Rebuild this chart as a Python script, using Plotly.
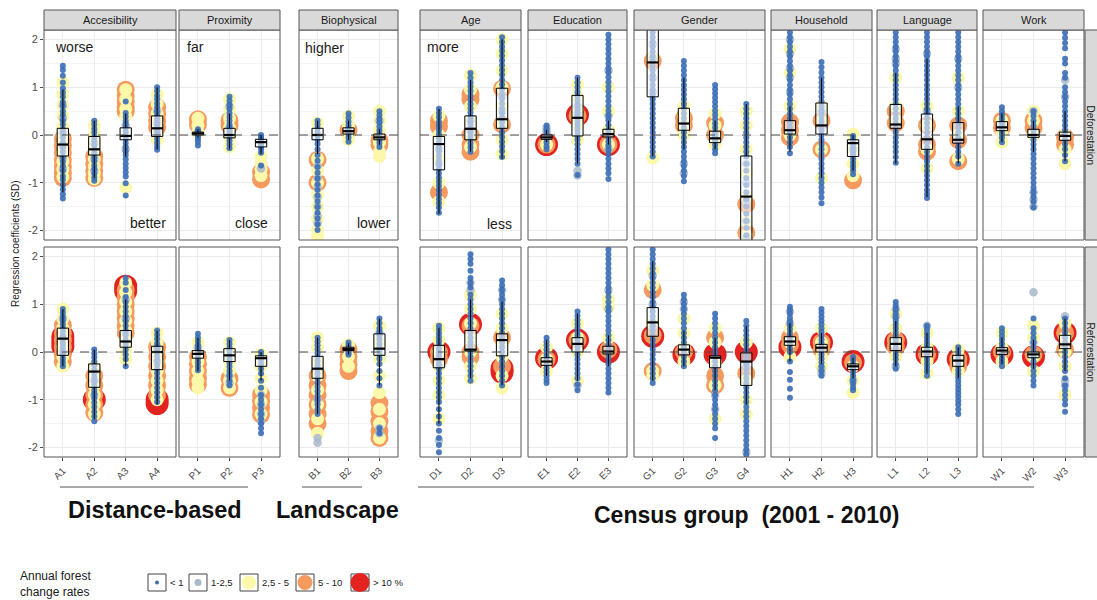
import plotly.graph_objects as go

FIG_W, FIG_H = 1097, 600
FONT = "Liberation Sans, Arial, sans-serif"

# ---------------------------------------------------------------- categories
PANELS = ["Accesibility", "Proximity", "Biophysical", "Age", "Education",
          "Gender", "Household", "Language", "Work"]
PANEL_CATS = [["A1", "A2", "A3", "A4"], ["P1", "P2", "P3"], ["B1", "B2", "B3"],
              ["D1", "D2", "D3"], ["E1", "E2", "E3"], ["G1", "G2", "G3", "G4"],
              ["H1", "H2", "H3"], ["L1", "L2", "L3"], ["W1", "W2", "W3"]]
ROWS = ["Deforestation", "Reforestation"]
RATE_LABELS = ["< 1", "1-2,5", "2,5 - 5", "5 - 10", "> 10 %"]
Y_TICKS = [-2, -1, 0, 1, 2]

# ------------------------------------------------- deforestation: box stats
# order: A1 A2 A3 A4 | P1 P2 P3 | B1 B2 B3 | D1 D2 D3 | E1 E2 E3 | G1 G2 G3 G4 | H1 H2 H3 | L1 L2 L3 | W1 W2 W3
def_lo = [-1.2, -0.9, -0.45, -0.3, -0.05, -0.3, -0.4, -0.4, -0.1, -0.2, -1.65, -0.35, -0.5,
          -0.15, -0.6, -0.2, -0.45, -0.3, -0.3, -2.6, -0.35, -0.9, -0.75, -0.6, -1.3, -0.6,
          -0.15, -0.35, -0.55]
def_q1 = [-0.44, -0.42, -0.1, -0.03, 0.0, -0.06, -0.25, -0.1, 0.02, -0.1, -0.73, -0.1, 0.14,
          -0.09, -0.02, -0.04, 0.8, 0.1, -0.16, -2.4, 0.02, 0.02, -0.45, 0.14, -0.3, -0.17,
          0.09, -0.05, -0.11]
def_med = [-0.2, -0.3, -0.02, 0.14, 0.03, 0.0, -0.15, 0.0, 0.08, -0.05, -0.19, 0.13, 0.33,
           -0.05, 0.36, 0.02, 1.52, 0.24, -0.07, -1.29, 0.1, 0.2, -0.17, 0.22, -0.09, -0.1,
           0.16, 0.0, -0.02]
def_q3 = [0.14, -0.03, 0.15, 0.4, 0.06, 0.14, -0.09, 0.14, 0.15, 0.02, -0.03, 0.4, 0.98,
          0.0, 0.83, 0.12, 2.4, 0.56, 0.08, -0.44, 0.3, 0.67, -0.1, 0.64, 0.44, 0.26,
          0.28, 0.12, 0.06]
def_hi = [0.95, 0.3, 0.45, 1.0, 0.12, 0.45, 0.0, 0.3, 0.3, 0.12, 0.55, 1.15, 2.0,
          0.1, 1.2, 0.3, 2.6, 1.2, 0.3, 0.65, 0.6, 1.2, 0.0, 1.3, 1.6, 0.6,
          0.45, 0.3, 0.5]

# ---------------------------------------------- deforestation: coefficients
def_blue = [
    [1.45, 1.36, 1.24, 1.1, 0.98, 0.89, 0.8, 0.69, 0.61, 0.5, 0.42, 0.31, 0.22, 0.12, 0.03, -0.05,
     -0.15, -0.26, -0.35, -0.46, -0.56, -0.65, -0.75, -0.86, -0.94, -1.04, -1.14, -1.24, -1.33],
    [0.3, 0.22, 0.13, 0.05, -0.04, -0.12, -0.21, -0.3, -0.38, -0.47, -0.55, -0.64, -0.72, -0.81, -0.89, -0.96],
    [0.7, 0.46, 0.38, 0.3, 0.23, 0.15, 0.07, 0.0, -0.08, -0.17, -0.25, -0.34, -0.42, -0.51, -0.6, -0.69,
     -0.78, -0.87, -1.01, -1.27],
    [1.0, 0.92, 0.83, 0.75, 0.66, 0.58, 0.49, 0.41, 0.33, 0.24, 0.16, 0.08, 0.0, -0.08, -0.16, -0.24, -0.31],
    [0.12, 0.08, 0.04, 0.01, -0.03, -0.08, -0.14, -0.22],
    [0.8, 0.72, 0.63, 0.55, 0.46, 0.38, 0.3, 0.22, 0.15, 0.08, 0.02, -0.05, -0.12, -0.2, -0.28],
    [0.0, -0.04, -0.09, -0.14, -0.19, -0.24, -0.3, -0.37, -0.64],
    [0.3, 0.22, 0.14, 0.06, -0.02, -0.1, -0.19, -0.3, -0.42, -0.54, -0.67, -0.79, -0.91, -1.03, -1.15,
     -1.27, -1.39, -1.51, -1.63, -1.75, -1.87, -1.99],
    [0.45, 0.36, 0.28, 0.2, 0.13, 0.07, 0.01, -0.06, -0.14],
    [0.5, 0.42, 0.34, 0.26, 0.18, 0.1, 0.03, -0.04, -0.1, -0.17, -0.25],
    [0.55, 0.46, 0.37, 0.28, 0.19, 0.1, 0.01, -0.08, -0.17, -0.26, -0.35, -0.44, -0.53, -0.62, -0.71,
     -0.8, -0.89, -0.98, -1.07, -1.16, -1.25, -1.34, -1.43, -1.52, -1.63],
    [1.3, 1.2, 1.1, 1.01, 0.92, 0.83, 0.74, 0.65, 0.56, 0.47, 0.38, 0.3, 0.22, 0.14, 0.06, -0.02,
     -0.1, -0.18, -0.26, -0.35],
    [2.05, 1.95, 1.85, 1.76, 1.66, 1.56, 1.46, 1.36, 1.26, 1.16, 1.06, 0.96, 0.86, 0.76, 0.66, 0.56,
     0.46, 0.36, 0.26, 0.16, 0.06, -0.04, -0.14, -0.24, -0.34, -0.46],
    [0.2, 0.12, 0.05, -0.02, -0.09, -0.16, -0.24, -0.3],
    [1.2, 1.1, 1.0, 0.9, 0.81, 0.72, 0.63, 0.54, 0.46, 0.38, 0.3, 0.22, 0.14, 0.06, -0.02, -0.1,
     -0.2, -0.3, -0.4, -0.5, -0.6, -0.84],
    [2.1, 2.0, 1.9, 1.8, 1.7, 1.6, 1.5, 1.4, 1.31, 1.21, 1.11, 1.01, 0.91, 0.81, 0.71, 0.61, 0.51,
     0.41, 0.31, 0.21, 0.11, 0.02, -0.06, -0.14, -0.22, -0.31, -0.4, -0.5, -0.6, -0.7, -0.8, -0.92],
    [2.15, 2.05, 1.95, 1.85, 1.75, 1.65, 1.55, 1.45, 1.35, 1.25, 1.15, 1.05, 0.95, 0.85, 0.75, 0.65,
     0.55, 0.45, 0.35, 0.25, 0.15, 0.05, -0.05, -0.15, -0.25, -0.35, -0.45],
    [1.55, 1.45, 1.35, 1.25, 1.15, 1.05, 0.95, 0.85, 0.75, 0.65, 0.55, 0.45, 0.35, 0.25, 0.15, 0.05,
     -0.05, -0.15, -0.25, -0.35, -0.45, -0.55, -0.65, -0.75, -0.86, -0.97],
    [1.05, 0.96, 0.87, 0.78, 0.69, 0.6, 0.51, 0.42, 0.33, 0.24, 0.15, 0.06, -0.03, -0.12, -0.21, -0.3, -0.38],
    [0.65, 0.55, 0.45, 0.35, 0.25, 0.15, 0.05, -0.05, -0.15, -0.25, -0.35, -0.45, -0.6, -0.75, -0.9,
     -1.05, -1.2, -1.35, -1.5, -1.65, -1.8, -1.95, -2.1],
    [2.15, 2.05, 1.95, 1.85, 1.75, 1.65, 1.55, 1.45, 1.35, 1.25, 1.15, 1.05, 0.95, 0.85, 0.75, 0.65,
     0.55, 0.45, 0.35, 0.25, 0.15, 0.05, -0.05, -0.15, -0.25, -0.38],
    [1.53, 1.42, 1.31, 1.2, 1.1, 1.0, 0.9, 0.8, 0.7, 0.6, 0.5, 0.4, 0.3, 0.2, 0.1, 0.0, -0.1, -0.2,
     -0.3, -0.4, -0.5, -0.6, -0.7, -0.8, -0.9, -1.0, -1.1, -1.2, -1.31, -1.43],
    [-0.02, -0.1, -0.18, -0.26, -0.34, -0.42, -0.5, -0.58, -0.66, -0.74, -0.82],
    [2.15, 2.05, 1.95, 1.85, 1.75, 1.65, 1.55, 1.45, 1.35, 1.25, 1.15, 1.05, 0.95, 0.85, 0.75, 0.65,
     0.55, 0.45, 0.35, 0.25, 0.15, 0.05, -0.05, -0.15, -0.25, -0.35, -0.46, -0.58],
    [2.15, 2.05, 1.95, 1.85, 1.75, 1.65, 1.55, 1.45, 1.35, 1.25, 1.15, 1.05, 0.95, 0.85, 0.75, 0.65,
     0.55, 0.45, 0.35, 0.25, 0.15, 0.05, -0.05, -0.15, -0.25, -0.35, -0.45, -0.55, -0.65, -0.75,
     -0.85, -0.95, -1.05, -1.15, -1.24, -1.32],
    [2.15, 2.05, 1.95, 1.85, 1.75, 1.65, 1.55, 1.45, 1.35, 1.25, 1.15, 1.05, 0.95, 0.85, 0.75, 0.65,
     0.55, 0.45, 0.35, 0.25, 0.15, 0.05, -0.05, -0.15, -0.25, -0.35, -0.45, -0.6],
    [0.58, 0.5, 0.42, 0.34, 0.26, 0.18, 0.1, 0.02, -0.06, -0.15],
    [0.5, 0.4, 0.3, 0.2, 0.1, 0.0, -0.1, -0.2, -0.3, -0.4, -0.5, -0.6, -0.7, -0.8, -0.9, -1.0,
     -1.1, -1.2, -1.3, -1.4, -1.52],
    [2.15, 2.04, 1.93, 1.82, 1.6, 1.5, 1.3, 1.2, 1.0, 0.9, 0.8, 0.7, 0.6, 0.5, 0.4, 0.3, 0.2, 0.1,
     0.0, -0.1, -0.2, -0.3, -0.42, -0.55],
]
def_gray = [
    [0.62, 0.35, 0.05, -0.22, -0.48, -0.71], [-0.18, -0.5, -0.75], [0.2, -0.3], [0.5, 0.25, 0.05],
    [0.05], [0.6, 0.15], [-0.7],
    [-0.65, -0.9, -1.1, -1.3, -1.5, -1.7, -1.85], [0.1], [0.3],
    [-0.3, -0.6], [0.3, 0.1], [0.8, 0.5],
    [0.15, 0.08], [0.6, 0.45, -0.75, -0.85], [1.35, 0.4, -0.3],
    [1.9, 1.6, 1.2, 0.9], [-0.6, -0.8], [0.0], [-0.6, -1.0, -1.4, -1.8, -2.15],
    [2.0, 1.7, 1.4, 1.2, 0.9], [0.5, 0.2], [-0.3],
    [1.8, 1.6, 1.5], [1.7, 0.5], [1.6, 1.0],
    [0.2], [0.5, -1.2, -1.35, -1.5], [1.15, 0.8],
]
def_yellow = [
    [1.1, 0.85, 0.62, 0.4, 0.18, -0.02, -0.2, -0.38, -0.55, -0.72, -0.88],
    [0.2, 0.02, -0.15, -0.33, -0.5, -0.66, -0.8, -0.92],
    [0.95, 0.75, 0.55, 0.4, -1.1],
    [0.85, 0.65, 0.45, 0.25, 0.05, -0.1],
    [0.35, 0.2, 0.05], [0.75, 0.55, 0.35, 0.15, -0.05, -0.25], [-0.45, -0.58, -0.72, -0.85],
    [0.25, -0.5, -0.75, -1.0, -1.25, -1.5, -1.75, -2.0, -2.12], [0.4, 0.2, 0.0, -0.1],
    [0.5, 0.3, 0.1, -0.15, -0.35, -0.45],
    [0.4, 0.0, -0.5, -1.0, -1.4], [1.25, 0.95, 0.6, 0.3, 0.0, -0.25],
    [2.0, 1.7, 1.35, 1.0, 0.6, 0.25, -0.1, -0.4],
    [-0.2], [1.05, 0.8, 0.55, 0.4, 0.2, -0.1], [1.0, 0.5, 0.1, -0.2],
    [1.6, -0.48], [0.6, 0.4, 0.2, 0.0], [0.45, 0.2, -0.05, -0.2], [0.5, 0.2, -0.3, -0.8, -1.3, -1.8, -2.1],
    [1.8, 1.3, 0.6, 0.0], [0.6, 0.3, -0.3, -0.9], [0.02, -0.3, -0.6, -0.85],
    [1.2, 0.6, 0.3], [0.6, 0.2, -0.3, -0.7], [1.2, 0.5, 0.0, -0.5],
    [0.3, 0.05, -0.15], [0.5, 0.3, 0.0], [0.0, -0.3, -0.6],
]
def_orange = [
    [-0.08, -0.22, -0.37, -0.52, -0.66, -0.8, -0.9], [-0.45, -0.6, -0.75, -0.9],
    [0.95, 0.82, 0.7, 0.58, 0.5], [0.58, 0.45, 0.3, 0.16],
    [0.33, 0.22], [0.3, 0.2], [-0.78, -0.93],
    [-0.52, -1.0], [0.1], [-0.12, -0.2],
    [0.3, 0.18, -1.2], [0.85, 0.75, 0.0, -0.2, -0.35], [0.97, 0.22],
    [-0.2], [0.4], [-0.2],
    [1.55], [0.35, 0.2], [0.25, 0.0], [-1.45, -2.05],
    [0.27, 0.1, -0.05], [0.3, -0.3], [-0.95],
    [0.5, 0.25], [0.2, -0.2, -0.35], [0.2, -0.1, -0.55],
    [0.3, 0.15], [0.3, 0.15], [-0.05, -0.2],
]
def_red = [
    [], [], [], [],
    [], [], [],
    [], [], [],
    [], [], [],
    [-0.2], [0.42], [-0.2],
    [], [], [], [],
    [], [], [],
    [], [], [],
    [], [], [],
]

# ------------------------------------------------- reforestation: box stats
ref_lo = [-0.3, -1.4, -0.3, -1.1, -0.4, -0.6, -0.6, -1.3, -0.05, -0.7, -1.5, -0.55, -0.7,
          -0.5, -0.6, -0.3, -0.6, -0.3, -0.8, -1.1, -0.2, -0.25, -0.55, -0.3, -0.45, -0.55,
          -0.25, -0.35, -0.4]
ref_q1 = [-0.07, -0.74, 0.1, -0.37, -0.13, -0.2, -0.3, -0.55, 0.03, -0.07, -0.33, 0.02, -0.08,
          -0.28, 0.0, -0.04, 0.33, -0.06, -0.33, -0.7, 0.14, 0.0, -0.37, 0.03, -0.1, -0.3,
          -0.05, -0.12, 0.07]
ref_med = [0.28, -0.41, 0.22, 0.0, -0.04, -0.07, -0.13, -0.35, 0.06, 0.07, -0.15, 0.05, 0.25,
           -0.2, 0.17, 0.01, 0.62, 0.05, -0.12, -0.2, 0.22, 0.09, -0.3, 0.17, 0.01, -0.18,
           0.03, -0.05, 0.16]
ref_q3 = [0.5, -0.25, 0.45, 0.12, 0.03, 0.07, -0.08, -0.09, 0.1, 0.38, 0.14, 0.45, 0.38,
          -0.12, 0.3, 0.12, 0.93, 0.15, -0.08, -0.02, 0.32, 0.16, -0.25, 0.3, 0.1, -0.07,
          0.09, 0.0, 0.35]
ref_hi = [0.9, 0.05, 1.1, 0.45, 0.3, 0.25, 0.0, 0.3, 0.18, 0.7, 0.5, 1.1, 1.05,
          0.25, 0.8, 0.35, 1.9, 0.45, 0.3, 0.55, 0.6, 0.4, -0.12, 0.65, 0.4, 0.1,
          0.3, 0.25, 0.7]

# ---------------------------------------------- reforestation: coefficients
ref_blue = [
    [0.9, 0.82, 0.74, 0.66, 0.58, 0.5, 0.42, 0.34, 0.26, 0.18, 0.1, 0.02, -0.06, -0.14, -0.22, -0.3],
    [0.05, -0.03, -0.11, -0.2, -0.28, -0.37, -0.45, -0.54, -0.62, -0.71, -0.8, -0.88, -0.97, -1.06,
     -1.15, -1.25, -1.35, -1.45],
    [1.55, 1.45, 1.3, 1.15, 1.05, 0.95, 0.85, 0.75, 0.65, 0.55, 0.45, 0.35, 0.25, 0.15, 0.05, -0.05,
     -0.15, -0.3],
    [0.45, 0.36, 0.27, 0.18, 0.09, 0.0, -0.09, -0.18, -0.27, -0.36, -0.45, -0.55, -0.65, -0.75,
     -0.85, -0.95, -1.05],
    [0.38, 0.3, 0.22, 0.14, 0.07, 0.0, -0.07, -0.14, -0.22, -0.3, -0.38],
    [0.25, 0.17, 0.09, 0.01, -0.07, -0.15, -0.23, -0.31, -0.4, -0.5, -0.6, -0.7],
    [0.0, -0.08, -0.16, -0.25, -0.35, -0.45, -0.6, -0.75, -0.9, -1.0, -1.1, -1.2, -1.3, -1.4,
     -1.5, -1.6, -1.7],
    [0.3, 0.22, 0.14, 0.06, -0.02, -0.1, -0.19, -0.28, -0.37, -0.46, -0.55, -0.64, -0.73, -0.82,
     -0.91, -1.0, -1.1, -1.2, -1.3],
    [0.2, 0.14, 0.08, 0.03, -0.02, -0.06],
    [0.7, 0.6, 0.5, 0.42, 0.34, 0.26, 0.18, 0.1, 0.02, -0.06, -0.14, -0.25, -0.4, -0.55, -0.7,
     -1.6, -1.7],
    [0.55, 0.47, 0.39, 0.31, 0.23, 0.15, 0.07, -0.01, -0.09, -0.17, -0.25, -0.35, -0.45, -0.55,
     -0.65, -0.75, -0.85, -0.95, -1.05, -1.2, -1.35, -1.5, -1.65, -1.8, -1.95, -2.1],
    [2.05, 1.95, 1.85, 1.7, 1.55, 1.45, 1.35, 1.2, 1.1, 1.0, 0.9, 0.8, 0.7, 0.6, 0.5, 0.4, 0.3,
     0.2, 0.1, 0.0, -0.1, -0.2, -0.3, -0.4, -0.5, -0.6],
    [1.5, 1.4, 1.3, 1.2, 1.1, 1.0, 0.9, 0.8, 0.7, 0.6, 0.5, 0.4, 0.3, 0.2, 0.1, 0.0, -0.1, -0.2,
     -0.3, -0.4, -0.5, -0.6, -0.7],
    [0.3, 0.22, 0.14, 0.06, -0.02, -0.1, -0.18, -0.26, -0.34, -0.42, -0.5, -0.58, -0.65],
    [0.85, 0.76, 0.67, 0.58, 0.5, 0.42, 0.34, 0.26, 0.18, 0.1, 0.02, -0.06, -0.15, -0.25, -0.35,
     -0.45, -0.55, -0.68, -0.8],
    [2.15, 2.05, 1.95, 1.85, 1.75, 1.65, 1.55, 1.45, 1.35, 1.25, 1.15, 1.05, 0.95, 0.85, 0.75,
     0.65, 0.55, 0.45, 0.35, 0.25, 0.15, 0.05, -0.05, -0.15, -0.25, -0.35, -0.45, -0.55, -0.65,
     -0.75, -0.85],
    [2.15, 2.05, 1.95, 1.85, 1.75, 1.65, 1.55, 1.45, 1.35, 1.25, 1.15, 1.05, 0.95, 0.85, 0.75,
     0.65, 0.55, 0.45, 0.35, 0.25, 0.15, 0.05, -0.05, -0.15, -0.25, -0.35, -0.45, -0.55, -0.65],
    [1.2, 1.1, 1.0, 0.9, 0.8, 0.7, 0.6, 0.5, 0.4, 0.3, 0.2, 0.1, 0.0, -0.1, -0.2, -0.3],
    [0.8, 0.7, 0.6, 0.5, 0.4, 0.3, 0.2, 0.1, 0.0, -0.1, -0.2, -0.3, -0.4, -0.5, -0.6, -0.7, -0.8,
     -0.9, -1.0, -1.1, -1.2, -1.3, -1.4, -1.5, -1.6, -1.8],
    [0.65, 0.55, 0.45, 0.35, 0.25, 0.15, 0.05, -0.05, -0.15, -0.25, -0.35, -0.45, -0.55, -0.65,
     -0.75, -0.85, -0.95, -1.05, -1.15, -1.25, -1.35, -1.45, -1.55, -1.65, -1.75, -1.85, -1.95,
     -2.05, -2.15],
    [0.95, 0.88, 0.8, 0.72, 0.64, 0.56, 0.48, 0.4, 0.32, 0.24, 0.16, 0.08, 0.0, -0.2, -0.42,
     -0.58, -0.77, -0.96],
    [0.9, 0.82, 0.74, 0.66, 0.58, 0.5, 0.42, 0.34, 0.26, 0.18, 0.1, 0.02, -0.06, -0.14, -0.22,
     -0.3, -0.4, -0.5],
    [-0.1, -0.18, -0.26, -0.34, -0.42, -0.5, -0.58, -0.66, -0.74, -0.8],
    [1.05, 0.97, 0.89, 0.81, 0.73, 0.65, 0.57, 0.49, 0.41, 0.33, 0.25, 0.17, 0.09, 0.01, -0.07,
     -0.15, -0.25, -0.35],
    [0.55, 0.47, 0.39, 0.31, 0.23, 0.15, 0.07, -0.01, -0.09, -0.17, -0.25, -0.33, -0.41, -0.5],
    [0.1, 0.02, -0.06, -0.14, -0.22, -0.3, -0.38, -0.46, -0.54, -0.62, -0.7, -0.78, -0.86, -0.94,
     -1.02, -1.1, -1.2, -1.3],
    [0.5, 0.42, 0.34, 0.26, 0.18, 0.1, 0.02, -0.06, -0.14, -0.22, -0.3],
    [0.7, 0.5, 0.4, 0.3, 0.2, 0.1, 0.0, -0.1, -0.2, -0.3, -0.4, -0.5, -0.6, -0.7],
    [0.7, 0.6, 0.5, 0.4, 0.3, 0.2, 0.1, 0.0, -0.1, -0.2, -0.3, -0.4, -0.55, -0.7, -0.8, -0.9,
     -1.0, -1.1, -1.25],
]
ref_gray = [
    [0.7, 0.3, 0.0], [-0.6, -0.9], [1.1, 0.7, 0.4], [0.1, -0.2],
    [0.1], [-0.5, -0.65], [-0.9, -1.1, -1.3, -1.45],
    [-1.0, -1.8, -1.9], [0.05], [0.4, -1.6, -1.7],
    [-1.85, -0.3], [1.45, 1.3], [1.3, 1.1],
    [], [-0.7], [1.3, 0.9],
    [1.6, 1.0, 0.5], [1.05, 0.9], [-0.9, -1.2], [-2.1, -0.3],
    [0.85, 0.6], [-0.45, -0.35], [-0.6],
    [0.9, 0.75, -0.3], [0.55], [],
    [], [1.25, 0.2], [0.75, -0.6, -0.7],
]
ref_yellow = [
    [0.9, 0.7, 0.5, 0.3, 0.1, -0.1, -0.3], [-0.3, -0.5, -0.7, -0.9, -1.1, -1.3],
    [1.45, 1.25, 1.05, 0.85, 0.65, 0.45, 0.25, 0.05, -0.15], [0.4, 0.2, 0.0, -0.2, -0.4, -0.6, -0.8, -1.0],
    [0.2, 0.0, -0.2, -0.4, -0.6, -0.75], [0.2, 0.0, -0.2, -0.4, -0.6, -0.75],
    [-0.05, -0.3, -0.55, -0.8, -1.05, -1.3],
    [0.3, 0.1, -0.2, -0.5, -0.8, -1.1, -1.4, -1.7], [0.15, -0.1, -0.3],
    [0.55, 0.2, -0.15, -0.5, -0.85, -1.2, -1.5, -1.8],
    [0.5, 0.25, 0.0, -0.3, -0.6, -0.9, -1.4], [1.2, 0.9, 0.6, 0.3, 0.0, -0.3, -0.55],
    [0.8, 0.5, 0.2, -0.1, -0.5, -0.75],
    [0.1, -0.15, -0.4], [0.6, 0.3, 0.0, -0.6], [1.1, 0.95, 0.3],
    [1.7, 1.4, 0.6, -0.4, -0.5], [0.7, 0.4, 0.1, -0.2], [0.5, 0.2, -0.2, -0.7, -1.4], [0.2, -0.6, -1.0, -1.3],
    [0.5, 0.2, -0.1], [0.5, 0.2, -0.1, -0.3], [-0.3, -0.6, -0.85],
    [0.8, 0.5, 0.2, -0.1], [0.4, 0.1, -0.2, -0.45], [0.05, -0.2, -0.4],
    [0.4, 0.1, -0.2], [0.55, 0.3, -0.1, -0.4], [0.6, 0.3, 0.0, -0.3, -0.9],
]
ref_orange = [
    [0.56, 0.4, 0.25, 0.1, -0.05, -0.2], [-0.5, -0.7, -0.9, -1.1, -1.27],
    [1.3, 1.15, 1.0, 0.85, 0.7, 0.55, 0.4], [0.1, -0.1, -0.3, -0.5, -0.7, -0.9],
    [-0.1, -0.25, -0.4, -0.55, -0.68], [-0.56, -0.75], [-0.89, -1.03, -1.17, -1.31],
    [-0.5, -0.7, -0.9, -1.1, -1.3, -1.5], [0.05, -0.1, -0.25, -0.4], [-1.07, -1.25, -1.45, -1.65, -1.8],
    [0.0, -0.15], [0.55, 0.0, -0.1], [0.3, -0.3],
    [-0.15], [0.25], [0.05],
    [1.3, 0.35, -0.4], [0.0], [0.3, -0.5, -0.7], [-0.45],
    [0.3, 0.15], [0.2, 0.05], [-0.22],
    [0.25, 0.1], [-0.05], [-0.15, -0.3],
    [0.0], [-0.05], [0.4, 0.05],
]
ref_red = [
    [0.32, 0.22, 0.12], [-1.0], [1.38, 1.28], [-1.0, -1.08],
    [], [], [],
    [], [], [],
    [0.0], [0.58], [-0.35, -0.42],
    [-0.13], [0.25], [0.0],
    [0.33], [-0.05], [-0.05], [0.0],
    [0.1], [0.2], [-0.2],
    [0.2], [-0.05], [-0.15],
    [-0.05], [-0.1], [0.4],
]

# ------------------------------------------------------------------ styling
# drawn largest first so the smaller classes sit on top
CLASS_STYLE = [
    ("red", "#e2231f", 23, 1.0),
    ("orange", "#f59a5e", 18, 1.0),
    ("yellow", "#fcf8aa", 13, 1.0),
    ("gray", "#a8b9cb", 8.5, 0.85),
    ("blue", "#3a6db5", 6, 0.9),
]
BOX_W = 0.36

# pixel geometry of the facets
PANEL_PX = [(44, 176), (179, 280), (299, 398), (420, 521), (528, 627),
            (634, 765), (771, 872), (877, 977), (983, 1084)]
ROW_PX = [(30, 240), (247, 457)]
STRIP_TOP = 10


def px(x):
    return x / FIG_W


def py(y):
    return 1 - y / FIG_H


row_series = [
    dict(red=def_red, orange=def_orange, yellow=def_yellow, gray=def_gray, blue=def_blue,
         stats=(def_lo, def_q1, def_med, def_q3, def_hi)),
    dict(red=ref_red, orange=ref_orange, yellow=ref_yellow, gray=ref_gray, blue=ref_blue,
         stats=(ref_lo, ref_q1, ref_med, ref_q3, ref_hi)),
]

fig = go.Figure()
shapes, annotations = [], []
NOHOVER = dict(hoverinfo="skip", showlegend=False)

k0 = 0
for p, cats in enumerate(PANEL_CATS):
    xa = "x" if p == 0 else f"x{p + 1}"
    idx = list(range(k0, k0 + len(cats)))
    for r in range(2):
        ya = "y" if r == 0 else "y2"
        s = row_series[r]
        for key, color, size, op in CLASS_STYLE:
            xs, ys = [], []
            for i, k in enumerate(idx):
                for v in s[key][k]:
                    xs.append(i)
                    ys.append(v)
            if xs:
                fig.add_trace(go.Scatter(
                    x=xs, y=ys, mode="markers", xaxis=xa, yaxis=ya,
                    marker=dict(color=color, size=size, opacity=op, line=dict(width=0)),
                    **NOHOVER))
        # box-and-whisker summaries, kept above the points
        lo, q1, med, q3, hi = s["stats"]
        wx, wy, bx, by, mx, my = [], [], [], [], [], []
        for i, k in enumerate(idx):
            h = BOX_W / 2
            wx += [i, i, None, i, i, None]
            wy += [q3[k], hi[k], None, q1[k], lo[k], None]
            bx += [i - h, i + h, i + h, i - h, i - h, None]
            by += [q1[k], q1[k], q3[k], q3[k], q1[k], None]
            mx += [i - h, i + h, None]
            my += [med[k], med[k], None]
        fig.add_trace(go.Scatter(x=wx, y=wy, mode="lines", xaxis=xa, yaxis=ya,
                                 line=dict(color="black", width=1), **NOHOVER))
        fig.add_trace(go.Scatter(x=bx, y=by, mode="lines", fill="toself", xaxis=xa, yaxis=ya,
                                 fillcolor="rgba(255,255,255,0.55)",
                                 line=dict(color="black", width=1), **NOHOVER))
        fig.add_trace(go.Scatter(x=mx, y=my, mode="lines", xaxis=xa, yaxis=ya,
                                 line=dict(color="black", width=2.2), **NOHOVER))
        # dashed zero reference and panel frame
        shapes.append(dict(type="line", xref=f"{xa} domain", yref=ya, x0=0, x1=1, y0=0, y1=0,
                           line=dict(color="#4d4d4d", width=1.2, dash="dash"), layer="above"))
        shapes.append(dict(type="rect", xref=f"{xa} domain", yref=f"{ya} domain",
                           x0=0, x1=1, y0=0, y1=1, line=dict(color="#555555", width=1),
                           layer="above"))
    # facet strip
    l, rr = PANEL_PX[p]
    shapes.append(dict(type="rect", xref="paper", yref="paper", x0=px(l), x1=px(rr),
                       y0=py(ROW_PX[0][0]), y1=py(STRIP_TOP), fillcolor="#d9d9d9",
                       line=dict(color="#555555", width=1)))
    annotations.append(dict(text=PANELS[p], xref="paper", yref="paper", x=px((l + rr) / 2),
                            y=py((STRIP_TOP + ROW_PX[0][0]) / 2), xanchor="center",
                            yanchor="middle", showarrow=False,
                            font=dict(size=11, color="#1a1a1a", family=FONT)))
    k0 += len(cats)

# row strips on the right
for r, name in enumerate(ROWS):
    top, bot = ROW_PX[r]
    shapes.append(dict(type="rect", xref="paper", yref="paper", x0=px(1085), x1=px(1104),
                       y0=py(bot), y1=py(top), fillcolor="#d9d9d9",
                       line=dict(color="#555555", width=1)))
    annotations.append(dict(text=name, xref="paper", yref="paper", x=px(1090.5),
                            y=py((top + bot) / 2), xanchor="center", yanchor="middle",
                            textangle=90, showarrow=False,
                            font=dict(size=10, color="#1a1a1a", family=FONT)))

# axes
layout_axes = {}
for p, cats in enumerate(PANEL_CATS):
    name = "xaxis" if p == 0 else f"xaxis{p + 1}"
    l, rr = PANEL_PX[p]
    layout_axes[name] = dict(
        domain=[px(l), px(rr)], range=[-0.6, len(cats) - 0.4], anchor="y2",
        tickmode="array", tickvals=list(range(len(cats))), ticktext=cats,
        tickangle=-45, tickfont=dict(size=10, color="#4d4d4d", family=FONT),
        ticks="outside", ticklen=3, tickcolor="#4d4d4d",
        showgrid=True, gridcolor="#ebebeb", gridwidth=1, zeroline=False, showline=False)
for r in range(2):
    name = "yaxis" if r == 0 else "yaxis2"
    top, bot = ROW_PX[r]
    layout_axes[name] = dict(
        domain=[py(bot), py(top)], range=[-2.2, 2.2], anchor="x",
        tickmode="array", tickvals=Y_TICKS, ticktext=[str(t) for t in Y_TICKS],
        tickfont=dict(size=11, color="#4d4d4d", family=FONT),
        ticks="outside", ticklen=3, tickcolor="#4d4d4d",
        showgrid=True, gridcolor="#ebebeb", gridwidth=1, zeroline=False, showline=False,
        minor=dict(tickvals=[-1.5, -0.5, 0.5, 1.5], showgrid=True, gridcolor="#f5f5f5",
                   gridwidth=0.6, ticks=""))

# y-axis title
annotations.append(dict(text="Regression coefficients (SD)", xref="paper", yref="paper",
                        x=px(15), y=py(244), xanchor="center", yanchor="middle",
                        textangle=-90, showarrow=False,
                        font=dict(size=10, color="#1a1a1a", family=FONT)))

# direction hints inside the deforestation panels
HINTS = [("worse", 53, 47, "left"), ("better", 168, 223, "right"),
         ("far", 185, 47, "left"), ("close", 270, 223, "right"),
         ("higher", 303, 48, "left"), ("lower", 393, 223, "right"),
         ("more", 425, 47, "left"), ("less", 514, 224, "right")]
for text, hx, hy, anchor in HINTS:
    annotations.append(dict(text=text, xref="paper", yref="paper", x=px(hx), y=py(hy),
                            xanchor=anchor, yanchor="middle", showarrow=False,
                            font=dict(size=14, color="#1a1a1a", family=FONT)))

# group brackets and titles
GROUPS = [("Distance-based", 60, 248, 155, 510, 23.5),
          ("Landscape", 302, 362, 337, 510, 23.5),
          ("Census group  (2001 - 2010)", 418, 1034, 747, 515, 23)]
for title, gx0, gx1, tx, ty, fs in GROUPS:
    shapes.append(dict(type="line", xref="paper", yref="paper", x0=px(gx0), x1=px(gx1),
                       y0=py(487), y1=py(487), line=dict(color="#8c8c8c", width=1.5)))
    annotations.append(dict(text=f"<b>{title}</b>", xref="paper", yref="paper", x=px(tx),
                            y=py(ty), xanchor="center", yanchor="middle", showarrow=False,
                            font=dict(size=fs, color="#111111", family=FONT)))

# legend for the annual change-rate classes
annotations.append(dict(text="Annual forest<br>change rates", xref="paper", yref="paper",
                        x=px(18), y=py(584), xanchor="left", yanchor="middle", align="left",
                        showarrow=False, font=dict(size=12, color="#1a1a1a", family=FONT)))
LEG_BOX_X = [148, 189, 240, 296, 351]
LEG_COLORS = ["#3a6db5", "#a8b9cb", "#fcf8aa", "#f59a5e", "#e2231f"]
LEG_RADIUS = [2, 3.5, 7, 7.5, 9.5]
for j, label in enumerate(RATE_LABELS):
    bx0 = LEG_BOX_X[j]
    shapes.append(dict(type="rect", xref="paper", yref="paper", x0=px(bx0), x1=px(bx0 + 18),
                       y0=py(591), y1=py(574), fillcolor="white",
                       line=dict(color="#444444", width=1)))
    rad = LEG_RADIUS[j]
    shapes.append(dict(type="circle", xref="paper", yref="paper", xsizemode="pixel",
                       ysizemode="pixel", xanchor=px(bx0 + 9), yanchor=py(582.5),
                       x0=-rad, x1=rad, y0=-rad, y1=rad, fillcolor=LEG_COLORS[j],
                       line=dict(width=0)))
    annotations.append(dict(text=label, xref="paper", yref="paper", x=px(bx0 + 20),
                            y=py(582.5), xanchor="left", yanchor="middle", showarrow=False,
                            font=dict(size=9.5, color="#1a1a1a", family=FONT)))

fig.update_layout(
    width=FIG_W, height=FIG_H, margin=dict(l=0, r=0, t=0, b=0),
    paper_bgcolor="white", plot_bgcolor="white", showlegend=False,
    shapes=shapes, annotations=annotations,
    font=dict(family=FONT), **layout_axes)

fig.write_html("out.html")
